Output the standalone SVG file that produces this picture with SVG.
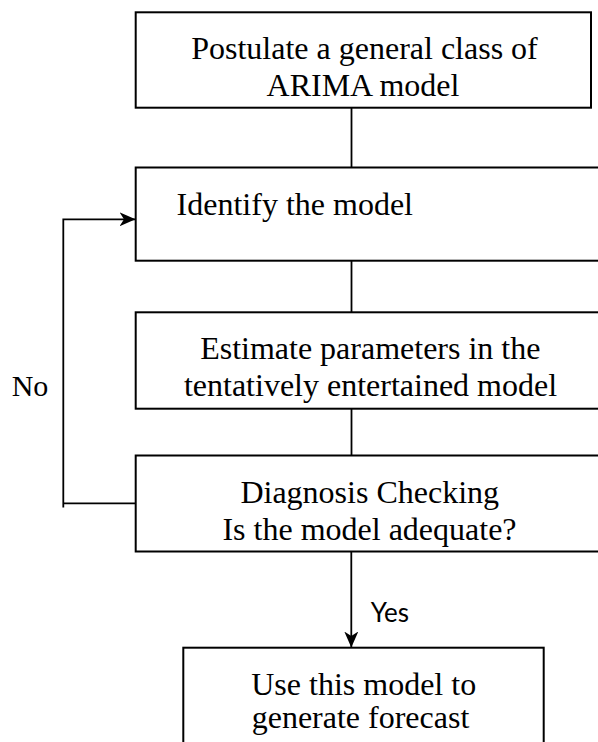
<svg xmlns="http://www.w3.org/2000/svg" width="598" height="742" viewBox="0 0 598 742">
  <style>
    .box { fill: #ffffff; stroke: #000000; stroke-width: 2; }
    .lbl { font-family: "Liberation Serif", "Times New Roman", serif; font-size: 32px; fill: #000000; }
    .c { text-anchor: middle; }
    .conn { fill: none; stroke: #000000; stroke-width: 1.8; }
    .yes { font-family: Lato, "Open Sans", sans-serif; font-size: 26px; fill: #000000; }
  </style>
  <defs>
    <marker id="arrow" viewBox="0 0 16 14" refX="15.5" refY="7" markerWidth="16" markerHeight="14" markerUnits="userSpaceOnUse" orient="auto">
      <path d="M0,0 L16,7 L0,14 L4.5,7 Z" fill="#000000"/>
    </marker>
  </defs>
  <rect width="598" height="742" fill="#ffffff"/>

  <g id="connectors">
    <path class="conn" d="M351.5,107.7 V167.5"/>
    <path class="conn" d="M351.5,260.7 V312.3"/>
    <path class="conn" d="M351.5,408.7 V455.5"/>
    <path class="conn" d="M351.3,551.5 V647" marker-end="url(#arrow)"/>
    <path class="conn" d="M135.7,503.3 H63.3"/>
    <path class="conn" d="M63.3,507.5 V219.3 H135" marker-end="url(#arrow)"/>
  </g>

  <g id="node-postulate">
    <rect class="box" x="135.7" y="12.3" width="455.3" height="95.4"/>
    <text class="lbl c" x="364.5" y="59.3">Postulate a general class of</text>
    <text class="lbl c" x="363" y="96">ARIMA model</text>
  </g>

  <g id="node-identify">
    <rect class="box" x="135.7" y="167.5" width="480" height="93.2"/>
    <text class="lbl" x="176.6" y="215">Identify the model</text>
  </g>

  <g id="node-estimate">
    <rect class="box" x="135.7" y="312.3" width="480" height="96.4"/>
    <text class="lbl c" x="370.3" y="359.3">Estimate parameters in the</text>
    <text class="lbl c" x="370.5" y="395.7">tentatively entertained model</text>
  </g>

  <g id="node-diagnosis">
    <rect class="box" x="135.7" y="455.5" width="480" height="96"/>
    <text class="lbl c" x="369.7" y="502.7">Diagnosis Checking</text>
    <text class="lbl c" x="369.5" y="540">Is the model adequate?</text>
  </g>

  <g id="node-forecast">
    <rect class="box" x="183.3" y="647.7" width="360.4" height="120"/>
    <text class="lbl c" x="363.7" y="695">Use this model to</text>
    <text class="lbl c" x="360.5" y="727.7">generate forecast</text>
  </g>

  <g id="labels">
    <text class="lbl" x="11.7" y="396" style="font-size:30px">No</text>
    <text class="yes" x="370.7" y="622.3">Yes</text>
  </g>
</svg>
